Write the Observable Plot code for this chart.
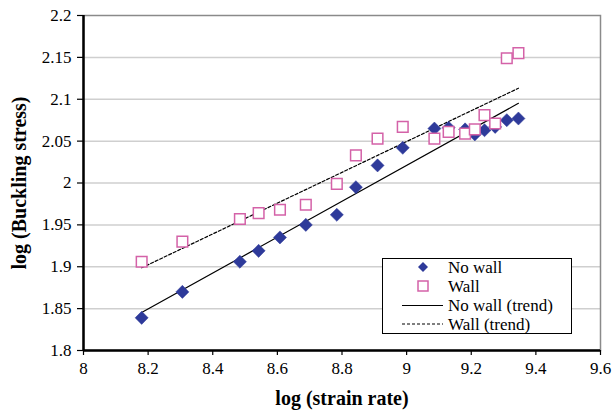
<!DOCTYPE html>
<html>
<head>
<meta charset="utf-8">
<script src="https://cdn.jsdelivr.net/npm/d3@7"></script>
<script src="https://cdn.jsdelivr.net/npm/@observablehq/plot@0.6"></script>
<style>
  html, body { margin: 0; padding: 0; background: #fff; }
  #wrap { position: relative; width: 612px; height: 410px; }
  #legend { position: absolute; left: 382px; top: 258px; }
  #wrap svg text { font-family: 'Liberation Serif', 'Times New Roman', serif; }
</style>
</head>
<body>
<div id="wrap"></div>
<script>
// Data
const strainRate = [8.180, 8.306, 8.484, 8.542, 8.608, 8.688, 8.784, 8.843, 8.910, 8.988, 9.086, 9.130, 9.181, 9.211, 9.241, 9.274, 9.310, 9.346];
const noWall = [1.839, 1.870, 1.906, 1.919, 1.935, 1.950, 1.962, 1.995, 2.021, 2.042, 2.065, 2.066, 2.064, 2.058, 2.063, 2.067, 2.075, 2.077];
const wall = [1.906, 1.930, 1.957, 1.964, 1.968, 1.974, 1.999, 2.033, 2.053, 2.067, 2.053, 2.061, 2.059, 2.064, 2.081, 2.071, 2.149, 2.155];
const xTicks = [8, 8.2, 8.4, 8.6, 8.8, 9, 9.2, 9.4, 9.6];
const yTicks = [1.8, 1.85, 1.9, 1.95, 2, 2.05, 2.1, 2.15, 2.2];
const seriesNames = ["No wall", "Wall", "No wall (trend)", "Wall (trend)"];
const xTitle = "log (strain rate)";
const yTitle = "log (Buckling stress)";

const noWallData = strainRate.map((x, i) => ({x, y: noWall[i]}));
const wallData = strainRate.map((x, i) => ({x, y: wall[i]}));

const serif = "'Liberation Serif', 'Times New Roman', serif";
const BLUE = "#2e3a9a";
const PINK = "#d462a8";

const chart = Plot.plot({
  width: 612,
  height: 410,
  marginLeft: 83,
  marginRight: 12,
  marginTop: 15,
  marginBottom: 60,
  style: {fontFamily: serif, background: "#fff", color: "#000"},
  x: {domain: [8, 9.6]},
  y: {domain: [1.8, 2.2]},
  marks: [
    Plot.gridY(yTicks.slice(1, -1), {stroke: "#cfcfcf", strokeOpacity: 1, strokeWidth: 1.5}),
    Plot.frame({stroke: "#8a8a8a", strokeWidth: 1.5}),
    Plot.axisX(xTicks, {tickSize: 5, tickPadding: 6, fontSize: 17, fontFamily: serif, stroke: "#000", strokeWidth: 1.2,
      tickFormat: d => String(+d.toFixed(1)), label: null}),
    Plot.axisY(yTicks, {tickSize: 6, tickPadding: 6, fontSize: 17, fontFamily: serif, stroke: "#000", strokeWidth: 1.2,
      tickFormat: d => String(+d.toFixed(2)), label: null}),
    Plot.ruleX([8], {stroke: "#000", strokeWidth: 2.5}),
    Plot.ruleY([1.8], {stroke: "#000", strokeWidth: 2.5}),
    Plot.linearRegressionY(noWallData, {x: "x", y: "y", stroke: "#000", strokeWidth: 1.2, ci: 0}),
    Plot.linearRegressionY(wallData, {x: "x", y: "y", stroke: "#000", strokeWidth: 1.2, strokeDasharray: "3,2", ci: 0}),
    Plot.dot(noWallData, {x: "x", y: "y", symbol: "diamond2", r: 5.9, fill: BLUE, stroke: BLUE, strokeWidth: 0.5}),
    Plot.dot(wallData, {x: "x", y: "y", symbol: "square", r: 6, fill: "#fff", stroke: PINK, strokeWidth: 1.5}),
    Plot.text([xTitle], {frameAnchor: "bottom", dy: 48, lineAnchor: "middle", textAnchor: "middle", fontSize: 20, fontWeight: "bold", fontFamily: serif, fill: "#000"}),
    Plot.text([yTitle], {frameAnchor: "left", dx: -64, rotate: -90, lineAnchor: "middle", textAnchor: "middle", fontSize: 20, fontWeight: "bold", fontFamily: serif, fill: "#000"})
  ]
});
document.getElementById("wrap").appendChild(chart);

// Legend
const lw = 190, lh = 76;
const leg = d3.select("#wrap").append("svg")
  .attr("id", "legend").attr("width", lw).attr("height", lh)
  .style("font-family", serif);
leg.append("rect").attr("x", 0.5).attr("y", 0.5).attr("width", lw - 1).attr("height", lh - 1)
  .attr("fill", "#fff").attr("stroke", "#000").attr("stroke-width", 1);
const rowY = [9, 28, 47.5, 66];
const symX = 41, lineX0 = 20, lineX1 = 61, textX = 66;
leg.append("path").attr("d", `M${symX},${rowY[0]-5}L${symX+5},${rowY[0]}L${symX},${rowY[0]+5}L${symX-5},${rowY[0]}Z`).attr("fill", BLUE);
leg.append("rect").attr("x", symX - 5).attr("y", rowY[1] - 5).attr("width", 10).attr("height", 10)
  .attr("fill", "#fff").attr("stroke", PINK).attr("stroke-width", 1.5);
leg.append("line").attr("x1", lineX0).attr("x2", lineX1).attr("y1", rowY[2]).attr("y2", rowY[2])
  .attr("stroke", "#000").attr("stroke-width", 1.2);
leg.append("line").attr("x1", lineX0).attr("x2", lineX1).attr("y1", rowY[3]).attr("y2", rowY[3])
  .attr("stroke", "#000").attr("stroke-width", 1.2).attr("stroke-dasharray", "3,2");
seriesNames.forEach((name, i) => {
  leg.append("text").attr("x", textX).attr("y", rowY[i]).attr("dy", "0.35em")
    .attr("font-size", 17).attr("fill", "#000").text(name);
});
</script>
</body>
</html>
